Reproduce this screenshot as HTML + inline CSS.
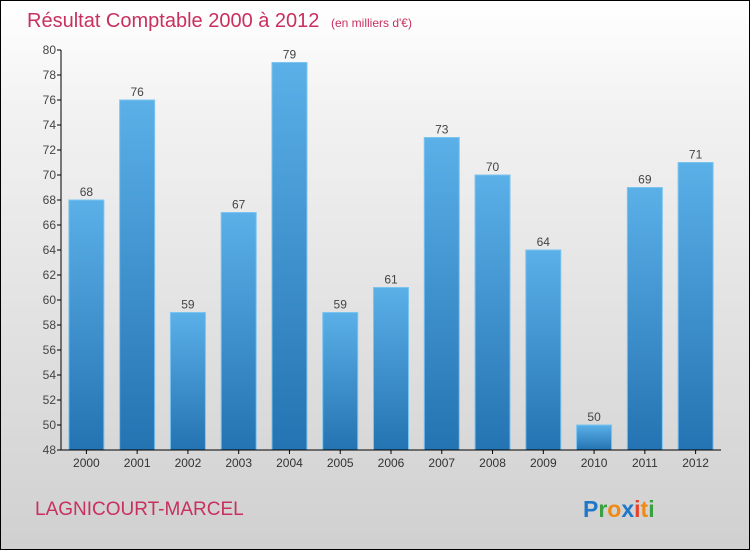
<!DOCTYPE html>
<html><head><meta charset="utf-8"><style>
body{margin:0}
#wrap{width:748px;height:548px;border:1px solid #000;background:linear-gradient(#fff,#f2f2f2 20%,#d0d0d0);position:relative;font-family:"Liberation Sans",sans-serif;overflow:hidden}
</style></head><body>
<div id="wrap">
<svg width="748" height="548" id="svg">
<defs><linearGradient id="bg" x1="0" y1="0" x2="0" y2="1"><stop offset="0" stop-color="#5bb0e8"/><stop offset="1" stop-color="#2473b2"/></linearGradient></defs>
<text x="26" y="26" font-size="20" fill="#c8305f">Résultat Comptable 2000 à 2012 <tspan font-size="12" dx="6">(en milliers d'€)</tspan></text>
<text x="34" y="514" font-size="19" fill="#c8305f">LAGNICOURT-MARCEL</text>
<g font-size="23" font-weight="bold"><text x="582" y="516"><tspan fill="#1f77c9">P</tspan><tspan fill="#3aa040">r</tspan><tspan fill="#f08a10">o</tspan><tspan fill="#1f77c9">x</tspan><tspan fill="#e8402a">i</tspan><tspan fill="#f08a10">t</tspan><tspan fill="#3aa040">i</tspan></text></g>
<g id="plot"></g>
</svg>
</div>
<script>
const categories=["2000","2001","2002","2003","2004","2005","2006","2007","2008","2009","2010","2011","2012"];
const values=[68,76,59,67,79,59,61,73,70,64,50,69,71];
const yTicks=[48,50,52,54,56,58,60,62,64,66,68,70,72,74,76,78,80];
const NS="http://www.w3.org/2000/svg";
const g=document.getElementById("plot");
const x0=60,x1=720,yMin=48,yMax=80,yTop=49,yBot=449;
const y=v=>yBot-(v-yMin)/(yMax-yMin)*(yBot-yTop);
const step=(x1-x0)/categories.length;
const xc=i=>x0+step*(i+0.5);
function mk(t,a){const e=document.createElementNS(NS,t);for(const k in a)e.setAttribute(k,a[k]);g.appendChild(e);return e;}
values.forEach((v,i)=>{
 const r=mk("rect",{x:xc(i)-17.5,y:y(v),width:35,height:yBot-y(v),fill:"url(#bg)",stroke:"#7cc4f0","stroke-width":1});
 
 
 const t=mk("text",{x:xc(i),y:y(v)-4,"text-anchor":"middle","font-size":12,fill:"#444"});t.textContent=v;
 
 
 const c=mk("text",{x:xc(i),y:466,"text-anchor":"middle","font-size":12,fill:"#333"});c.textContent=categories[i];
 
 
 mk("line",{x1:xc(i),x2:xc(i),y1:yBot,y2:yBot+4,stroke:"#000"});
});
yTicks.forEach(v=>{
 mk("line",{x1:x0-4,x2:x0,y1:y(v),y2:y(v),stroke:"#000"});
 const t=mk("text",{x:x0-5,y:y(v)+4,"text-anchor":"end","font-size":12,fill:"#444"});t.textContent=v;
 
 
});
const ya=mk("line",{x1:x0,x2:x0,y1:yTop,y2:yBot,stroke:"#000"});


const xa=mk("line",{x1:x0,x2:x1,y1:yBot,y2:yBot,stroke:"#000"});


</script>
</body></html>
